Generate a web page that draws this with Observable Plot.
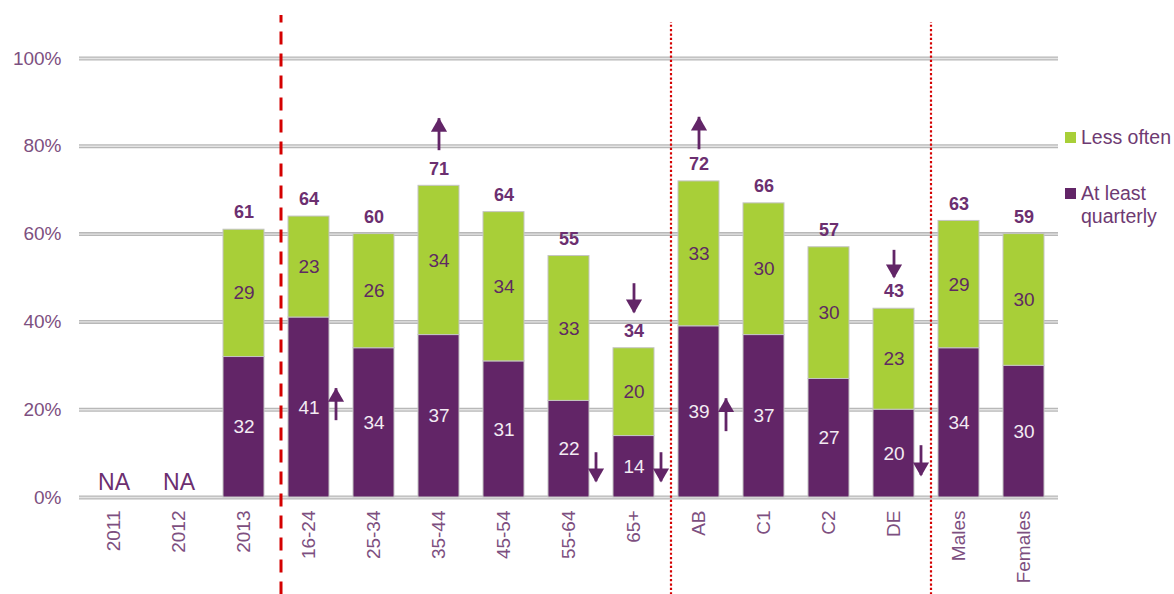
<!DOCTYPE html>
<html><head><meta charset="utf-8">
<script src="https://cdn.jsdelivr.net/npm/d3@7"></script>
<script src="https://cdn.jsdelivr.net/npm/@observablehq/plot@0.6"></script>
<style>
html,body{margin:0;background:#fff;font-family:"Liberation Sans",Arial,sans-serif;overflow:hidden;}
#wrap{position:relative;width:1174px;height:594px;overflow:hidden;}
.legend{position:absolute;left:1065px;top:0;color:#6e3a72;font-size:19.5px;line-height:23px;}
.legend .sw{position:absolute;left:0;width:11px;height:11px;}
.legend .lb{position:absolute;left:16px;white-space:nowrap;}
</style></head><body><div id="wrap"></div>
<script>
const categories = ["2011","2012","2013","16-24","25-34","35-44","45-54","55-64","65+","AB","C1","C2","DE","Males","Females"];
const atLeastQuarterly = [null,null,32,41,34,37,31,22,14,39,37,27,20,34,30];
const lessOften = [null,null,29,23,26,34,34,33,20,33,30,30,23,29,30];
const totals = [null,null,61,64,60,71,64,55,34,72,66,57,43,63,59];
const seriesNames = ["At least quarterly","Less often"];
const yTicks = [0,20,40,60,80,100];
const dividers = [{before:"16-24",kind:"dashed"},{before:"AB",kind:"dotted"},{before:"Males",kind:"dotted"}];
// significance arrows: category, direction, start and end value, placed above bar or beside it
const arrows = [
  {cat:"16-24",dir:"up",from:17.5,to:24.8,beside:true},
  {cat:"35-44",dir:"up",from:79,to:86.3,beside:false},
  {cat:"AB",dir:"up",from:79.2,to:86.6,beside:false},
  {cat:"AB",dir:"up",from:15,to:22.5,beside:true},
  {cat:"55-64",dir:"down",from:10.2,to:3.6,beside:true},
  {cat:"65+",dir:"down",from:48.7,to:42.1,beside:false},
  {cat:"65+",dir:"down",from:10.2,to:3.6,beside:true},
  {cat:"DE",dir:"down",from:56.3,to:50.1,beside:false},
  {cat:"DE",dir:"down",from:11.8,to:5,beside:true}
];

const PURPLE = "#622567", GREEN = "#a8cf38", TXT = "#6c2f70", AXT = "#7d4f80";

const segs = [];
categories.forEach((c,i)=>{
  if (atLeastQuarterly[i] == null) return;
  segs.push({cat:c, series:seriesNames[0], y1:0, y2:atLeastQuarterly[i], v:atLeastQuarterly[i]});
  segs.push({cat:c, series:seriesNames[1], y1:atLeastQuarterly[i], y2:atLeastQuarterly[i]+lessOften[i], v:lessOften[i]});
});
const tops = categories.map((c,i)=>({cat:c, top:(atLeastQuarterly[i]??0)+(lessOften[i]??0), total:totals[i]})).filter(d=>d.total!=null);
const nas = categories.filter((c,i)=>atLeastQuarterly[i]==null).map(c=>({cat:c}));

const arrowMarks = [];
for (const beside of [false,true]) for (const dir of ["up","down"]) {
  const sub = arrows.filter(a=>a.beside===beside && a.dir===dir);
  if (!sub.length) continue;
  const dx = beside ? 27 : 0;
  arrowMarks.push(Plot.ruleX(sub,{x:"cat", y1:"from", y2:"to", dx, stroke:PURPLE, strokeWidth:2.8}));
  arrowMarks.push(Plot.dot(sub,{x:"cat", y:"to", dx, dy: dir==="up"?8.5:-8.5, symbol:"triangle", rotate: dir==="up"?0:180, r:6, fill:PURPLE, stroke:"none"}));
}

const chart = Plot.plot({
  width:1174, height:594,
  marginLeft:79, marginRight:116, marginTop:58, marginBottom:97,
  style:{fontFamily:"Liberation Sans, Arial, sans-serif", background:"#fff"},
  x:{type:"band", domain:categories, paddingInner:0.37, paddingOuter:0.185, label:null},
  y:{domain:[0,100], label:null},
  color:{domain:seriesNames, range:[PURPLE,GREEN]},
  marks:[
    Plot.ruleY(yTicks,{stroke:"#b8b8b8", strokeWidth:4}),
    Plot.ruleY(yTicks,{stroke:"#e4e4e4", strokeWidth:1.4}),
    Plot.rectY(segs,{x:"cat", y1:"y1", y2:"y2", fill:"series", stroke:"#c4c4c4", strokeWidth:1}),
    Plot.text(segs,{x:"cat", y:d=>(d.y1+d.y2)/2, text:"v", fontSize:19, fill:d=>d.series===seriesNames[0]?"#f3ebf3":"#5e2a62"}),
    Plot.text(tops,{x:"cat", y:"top", text:"total", dy:-17, fontSize:18, fontWeight:"bold", fill:TXT}),
    Plot.text(nas,{x:"cat", y:0, text:()=>"NA", dy:-15, fontSize:23, fill:TXT}),
    ...arrowMarks,
    Plot.ruleX(dividers.filter(d=>d.kind==="dashed"),{x:"before", dx:-28, y1:-22.2, y2:109.8, stroke:"#d40000", strokeWidth:3, strokeDasharray:"13 9"}),
    Plot.ruleX(dividers.filter(d=>d.kind==="dotted"),{x:"before", dx:-28, y1:-22.2, y2:108.2, stroke:"#d40000", strokeWidth:2.2, strokeDasharray:"2.2 2.2"}),
    Plot.axisY({ticks:yTicks, tickFormat:d=>d+"%", tickSize:0, tickPadding:18, fontSize:19, fill:AXT}),
    Plot.axisX({tickRotate:-90, tickSize:0, tickPadding:13, fontSize:19, fill:AXT})
  ]
});
const wrap = document.getElementById("wrap");
wrap.appendChild(chart);
const legend = document.createElement("div");
legend.className = "legend";
legend.innerHTML = `
<div class="sw" style="top:132px;background:${GREEN}"></div><div class="lb" style="top:126px">Less often</div>
<div class="sw" style="top:188px;background:${PURPLE}"></div><div class="lb" style="top:182px">At least<br>quarterly</div>`;
wrap.appendChild(legend);
</script></body></html>
